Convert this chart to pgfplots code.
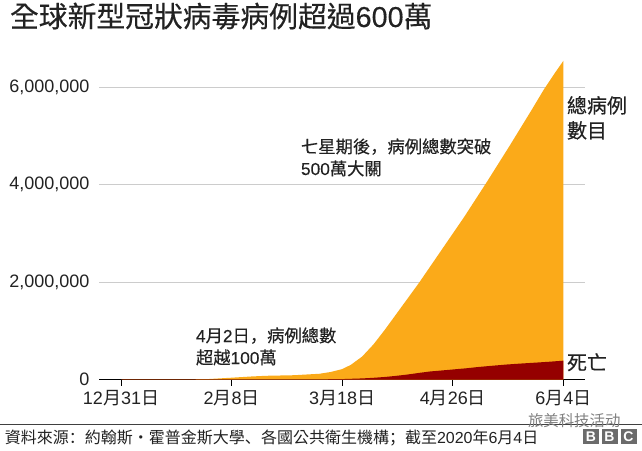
\documentclass[border=0pt]{standalone}
\usepackage{pgfplots}
\pgfplotsset{compat=1.18}
\usepackage{fontspec}
\setmainfont{Liberation Sans}
\newfontfamily\cjk{Noto Sans CJK TC}
\newfontfamily\cjkm[FakeBold=0.3]{Noto Sans CJK TC}
\newfontfamily\cjksc{Noto Sans CJK SC}
\newfontfamily\cjkscm[FakeBold=0.3]{Noto Sans CJK SC}
\newfontfamily\latm[FakeBold=0.3]{Liberation Sans}
\definecolor{bbcor}{HTML}{FBAA19}
\definecolor{bbcred}{HTML}{950000}
\definecolor{ink}{HTML}{222222}
\begin{document}
\begin{tikzpicture}[x=1pt,y=1pt,inner sep=0pt,outer sep=0pt]
\useasboundingbox (0,0) rectangle (642,450);
\begin{axis}[
  at={(99pt,70.5pt)},anchor=south west,
  scale only axis,width=486pt,height=321.2pt,
  xmin=-7.76,xmax=163.6,ymin=0,ymax=6600000,
  axis x line=bottom,axis y line*=left,
  y axis line style={draw=none},
  x axis line style={draw=black,-,line width=0.8pt},
  xtick={0,39,78,117,156},
  xticklabels={{12{\cjk 月}31{\cjk 日}},{2{\cjk 月}8{\cjk 日}},{3{\cjk 月}18{\cjk 日}},{4{\cjk 月}26{\cjk 日}},{6{\cjk 月}4{\cjk 日}}},
  ytick={0,2000000,4000000,6000000},
  scaled y ticks=false,
  /pgf/number format/assume math mode=true,
  /pgf/number format/1000 sep={,},
  /pgf/number format/fixed,
  ymajorgrids,
  grid style={draw=black!20,line width=0.9pt},
  ytick style={draw=none},
  xtick style={draw=black,line width=0.7pt},
  tick align=outside,
  major tick length=6pt,
  tick label style={font=\fontsize{18}{20}\selectfont,text=ink},
  xticklabel style={yshift=-5pt},
  yticklabel style={xshift=-3.5pt},
  clip=false,
]
\addplot[fill=bbcor,draw=none] coordinates {
(0,0)(22,600)(31,9900)(39,37000)(46,62000)(51,76000)(61,88000)(70,118000)(74,155000)(78,214000)(81,300000)(85,470000)(89,720000)(93,1020000)(97,1340000)(101,1660000)(105,1980000)(109,2320000)(113,2660000)(117,3000000)(121,3340000)(125,3700000)(129,4060000)(133,4430000)(137,4800000)(141,5180000)(145,5560000)(149,5950000)(153,6300000)(156,6550000)
} \closedcycle;
\addplot[fill=bbcred,draw=none] coordinates {
(0,0)(70,3000)(78,8700)(85,22000)(89,35000)(93,52000)(97,75000)(101,102000)(105,135000)(109,165000)(113,185000)(117,206000)(122,232000)(126,257000)(131,283000)(136,308000)(141,328000)(146,346000)(151,365000)(156,387000)
} \closedcycle;
\end{axis}
\node[anchor=base west,text=ink,font=\fontsize{28.8}{30}\selectfont] at (10,450-27) {{\cjkm 全球新型冠狀病毒病例超過}{\latm 600}{\cjkm 萬}};
\begin{scope}[every node/.style={anchor=base west,text=ink,font=\fontsize{17.3}{18}\selectfont}]
\node at (301,450-153) {{\cjkm 七星期後}{\cjkscm \symbol{"FF0C}}{\cjkm 病例總數突破}};
\node at (301,450-175) {{\latm 500}{\cjkm 萬大關}};
\node at (196,450-342) {{\latm 4}{\cjkm 月}{\latm 2}{\cjkm 日}{\cjkscm \symbol{"FF0C}}{\cjkm 病例總數}};
\node at (196,450-364) {{\cjkm 超越}{\latm 100}{\cjkm 萬}};
\end{scope}
\begin{scope}[every node/.style={anchor=base west,text=ink,font=\fontsize{20}{20}\selectfont}]
\node at (567,450-113) {{\cjkm 總病例}};
\node at (567,450-138) {{\cjkm 數目}};
\node at (567,450-370) {{\cjkm 死亡}};
\end{scope}
\draw[black!75,line width=0.8pt] (0,450-424) -- (642,450-424);
\node[anchor=base west,text=ink,font=\fontsize{16}{18}\selectfont] at (5,450-443) {{\cjk 資料來源}{\cjksc \symbol{"FF1A}}{\cjk 約翰斯・霍普金斯大學}{\cjksc \symbol{"3001}}{\cjk 各國公共衛生機構}{\cjksc \symbol{"FF1B}}{\cjk 截至}2020{\cjk 年}6{\cjk 月}4{\cjk 日}};
\node[anchor=base west,text=black!50,font=\fontsize{15.4}{18}\selectfont] at (528,450-426) {{\cjk 旅美科技活动}};
\foreach \x/\l in {583/B,601.5/B,620.5/C}{
  \fill[black!58] (\x,450-443.5) rectangle (\x+16,450-429);
  \node[text=white,font=\bfseries\fontsize{14}{14}\selectfont] at (\x+8,450-436.2) {\l};
}
\end{tikzpicture}
\end{document}
